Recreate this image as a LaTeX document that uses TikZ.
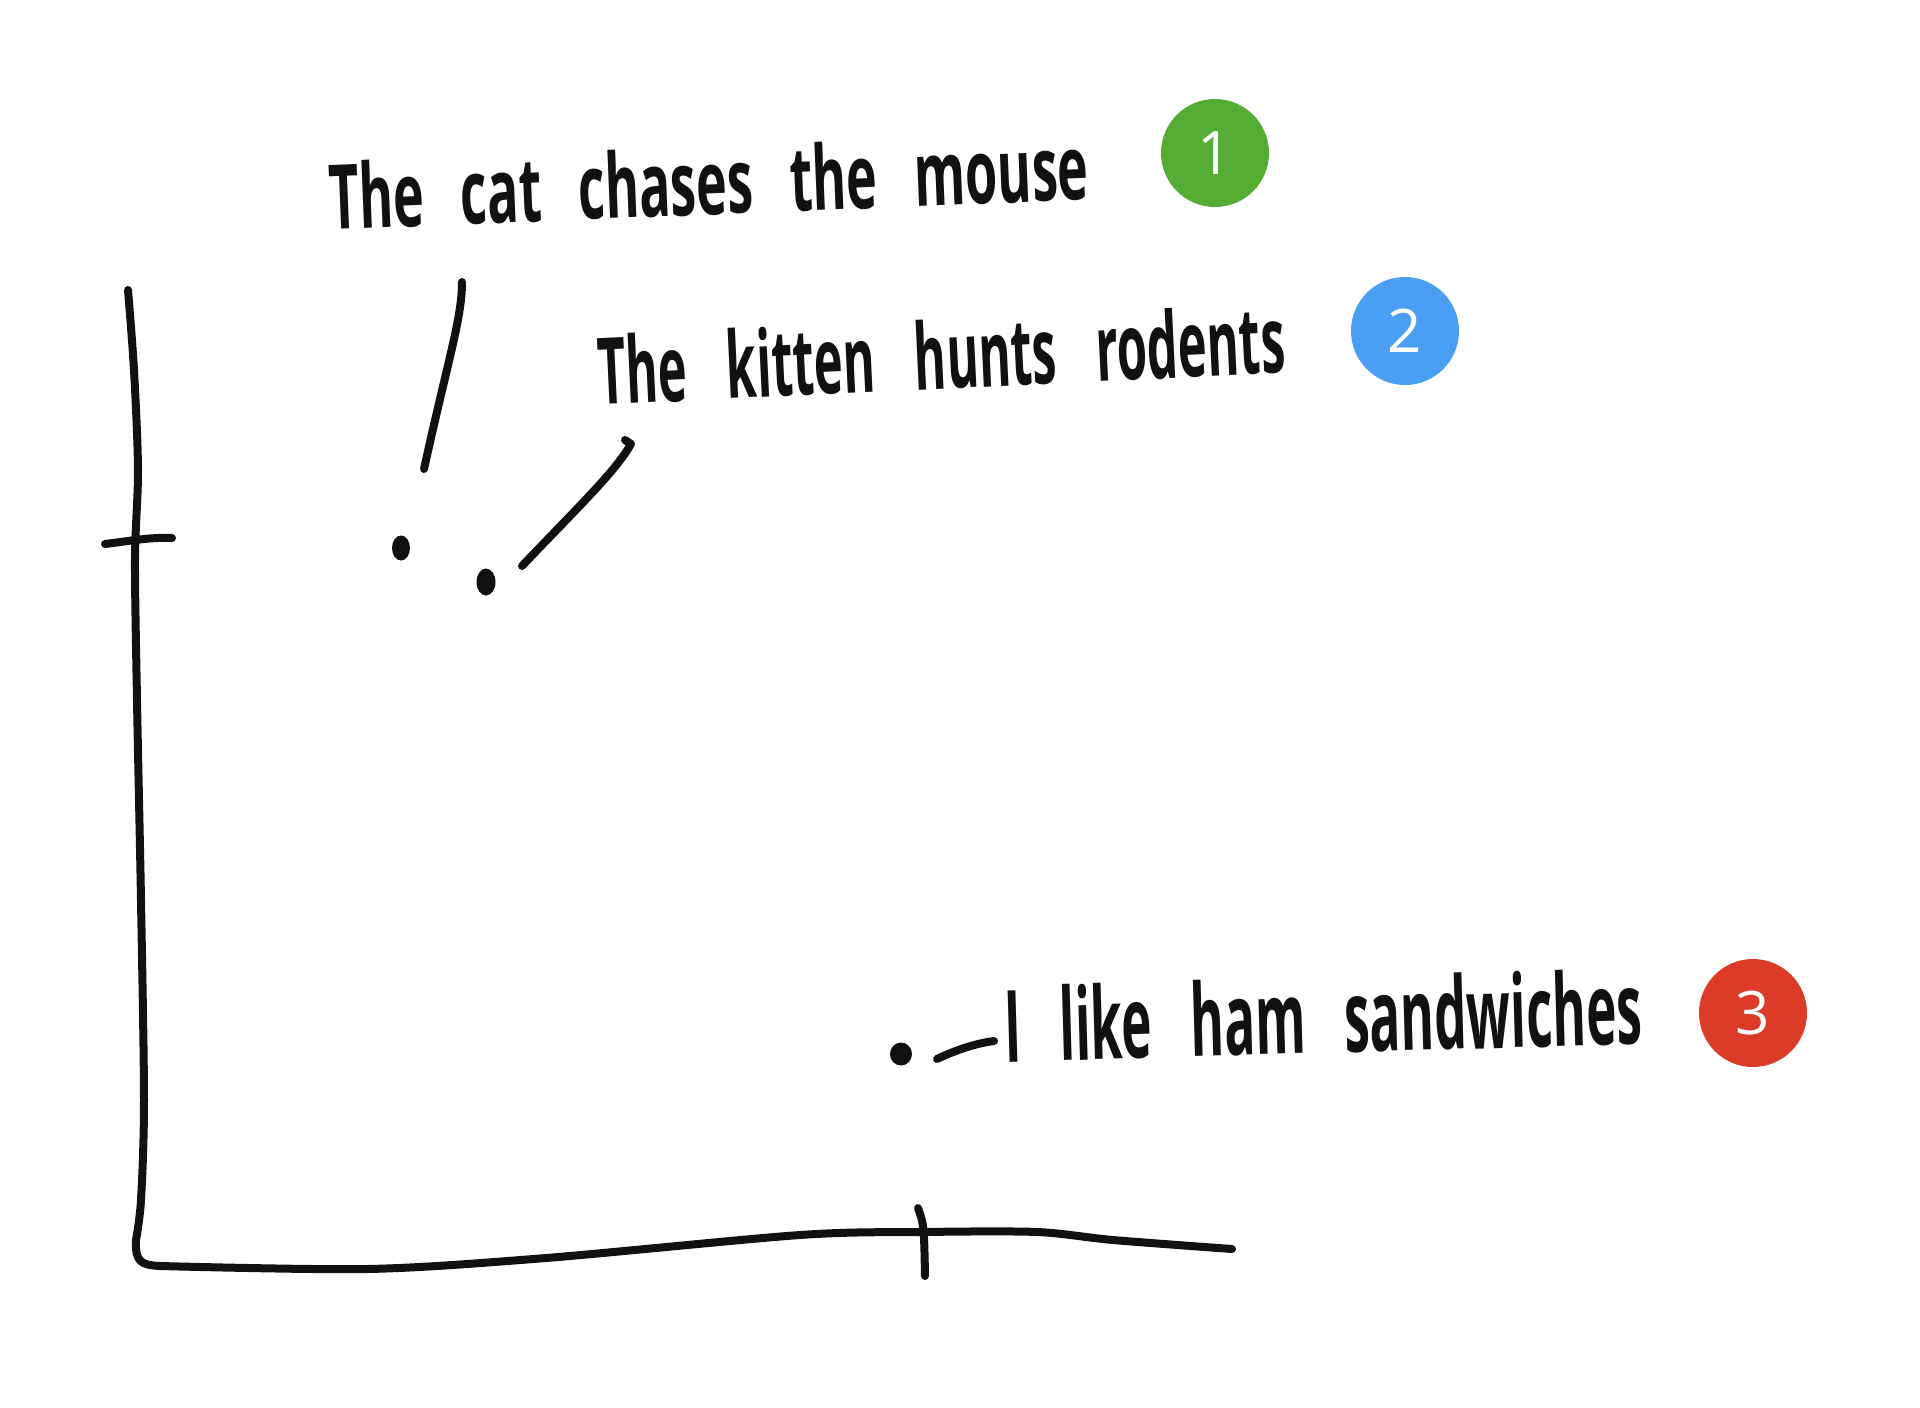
\documentclass[tikz,border=0pt]{standalone}
\usepackage{fontspec}
\usepackage{graphicx}
\usetikzlibrary{shapes.geometric}
\newfontfamily\handfont{Open Sans}
\definecolor{ink}{HTML}{111111}
\definecolor{badgegreen}{RGB}{84,172,51}
\definecolor{badgeblue}{RGB}{74,159,245}
\definecolor{badgered}{RGB}{219,59,39}
\begin{document}
\begin{tikzpicture}[x=1pt,y=-1pt,
  pen/.style={draw=ink,line width=8pt,line cap=round,line join=round},
  dotmark/.style={ellipse,fill=ink,inner sep=0pt},
  badge/.style={circle,inner sep=0pt,minimum size=108pt,text=white,
    font=\handfont\fontsize{60}{72}\selectfont},
  hand/.style={inner sep=0pt,anchor=base west,text=ink,font=\handfont\bfseries}]
\useasboundingbox[fill=white] (0,0) rectangle (1920,1408);

% axes
\draw[pen] plot[smooth,tension=0.5] coordinates {(128,290) (134,370) (138,470) (135,560) (137,700) (141,900) (144,1100) (141,1200) (136,1240)};
\draw[pen] (136,1240) .. controls (135,1262) and (141,1265) .. (160,1266);
\draw[pen] plot[smooth,tension=0.5] coordinates {(160,1266) (368,1269) (546,1258) (800,1235) (922,1232) (1037,1232) (1113,1240) (1232,1249)};
% ticks
\draw[pen] (105,544) .. controls (130,541) and (150,537) .. (172,538);
\draw[pen] (918,1208) .. controls (924,1225) .. (925,1276);

% dots
\node[dotmark,minimum width=18pt,minimum height=25pt] (d1) at (401,548) {};
\node[dotmark,minimum width=19pt,minimum height=27pt] (d2) at (486,582) {};
\node[dotmark,minimum width=22pt,minimum height=23pt] (d3) at (901,1054) {};

% texts
\node[hand,rotate=2.3] (t1) at (330,230) {\resizebox{760pt}{68pt}{The\hspace{0.7em}cat\hspace{0.7em}chases\hspace{0.7em}the\hspace{0.7em}mouse}};
\node[hand,rotate=2.7] (t2) at (599,405) {\resizebox{688pt}{70pt}{The\hspace{0.8em}kitten\hspace{0.8em}hunts\hspace{0.8em}rodents}};
\node[hand,rotate=1.6] (t3) at (1005,1062) {\resizebox{638pt}{76pt}{I\hspace{0.75em}like\hspace{0.75em}ham\hspace{0.75em}sandwiches}};

% connectors
\coordinate (c1a) at (424,469);
\coordinate (c1b) at (462,282);
\coordinate (c2a) at (522,566);
\coordinate (c2b) at (631,444);
\coordinate (c2h) at (625,440);
\coordinate (c3a) at (937,1059);
\coordinate (c3b) at (994,1041);
\draw[pen] (c1a) .. controls (448,360) and (462,318) .. (c1b);
\draw[pen] (c2a) .. controls (580,505) and (615,472) .. (c2b) -- (c2h);
\draw[pen] (c3a) .. controls (958,1049) and (978,1043) .. (c3b);

% badges
\node[badge,fill=badgegreen] (b1) at (1215,153) {1};
\node[badge,fill=badgeblue] (b2) at (1405,331) {2};
\node[badge,fill=badgered] (b3) at (1753,1013) {3};
\end{tikzpicture}
\end{document}
